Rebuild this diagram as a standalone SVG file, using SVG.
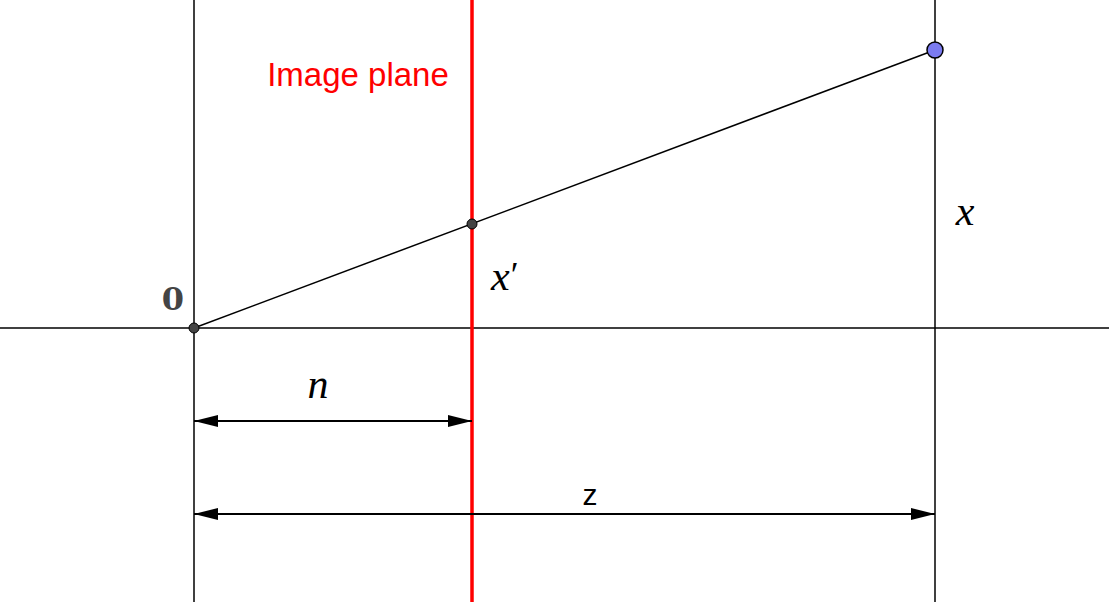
<svg xmlns="http://www.w3.org/2000/svg" width="1109" height="602" viewBox="0 0 1109 602">
<style>
.ln{stroke:#000;stroke-width:1.5;fill:none}
.dim{stroke:#000;stroke-width:2;fill:none}
.math{font-family:"Liberation Serif","DejaVu Serif",serif;font-style:italic;font-size:42px;fill:#000}
</style>
<defs>
<marker id="ah" markerWidth="24" markerHeight="12" refX="24" refY="6" orient="auto-start-reverse" markerUnits="userSpaceOnUse">
<path d="M0,0 L24,6 L0,12 Z" fill="#000"/>
</marker>
</defs>
<rect width="1109" height="602" fill="#fff"/>
<g id="axes">
<line class="ln" x1="0" y1="328" x2="1109" y2="328"/>
<line class="ln" x1="194" y1="0" x2="194" y2="602"/>
<line class="ln" x1="935" y1="0" x2="935" y2="602"/>
</g>
<g id="image-plane">
<line x1="472" y1="0" x2="472" y2="602" stroke="#f00" stroke-width="3.5"/>
<text x="358" y="86" font-family="Liberation Sans, Arial, sans-serif" font-size="33" fill="#f00" text-anchor="middle">Image plane</text>
</g>
<g id="connectors">
<line class="ln" x1="194" y1="328" x2="935" y2="50"/>
<line class="dim" x1="194" y1="421" x2="472" y2="421" marker-start="url(#ah)" marker-end="url(#ah)"/>
<line class="dim" x1="194" y1="514" x2="935" y2="514" marker-start="url(#ah)" marker-end="url(#ah)"/>
</g>
<g id="origin">
<circle cx="194" cy="328" r="5" fill="#444" stroke="#000" stroke-width="1"/>
<text x="173" y="310" font-family="DejaVu Serif, Liberation Serif, serif" font-weight="bold" font-size="32" fill="#444" text-anchor="middle">0</text>
</g>
<g id="xprime">
<circle cx="472" cy="224" r="5" fill="#444" stroke="#000" stroke-width="1"/>
<text class="math" x="491" y="290">x<tspan font-style="normal" font-size="36" dx="1" dy="-3">′</tspan></text>
</g>
<g id="x-point">
<circle cx="935" cy="50" r="8" fill="#7b7bf0" stroke="#000" stroke-width="1.5"/>
<text class="math" x="965" y="225" text-anchor="middle">x</text>
</g>
<g id="n-label">
<text class="math" x="318" y="398" text-anchor="middle">n</text>
</g>
<g id="z-label">
<text x="590" y="505" font-family="Liberation Sans, Arial, sans-serif" font-size="30" fill="#000" text-anchor="middle">z</text>
</g>
</svg>
